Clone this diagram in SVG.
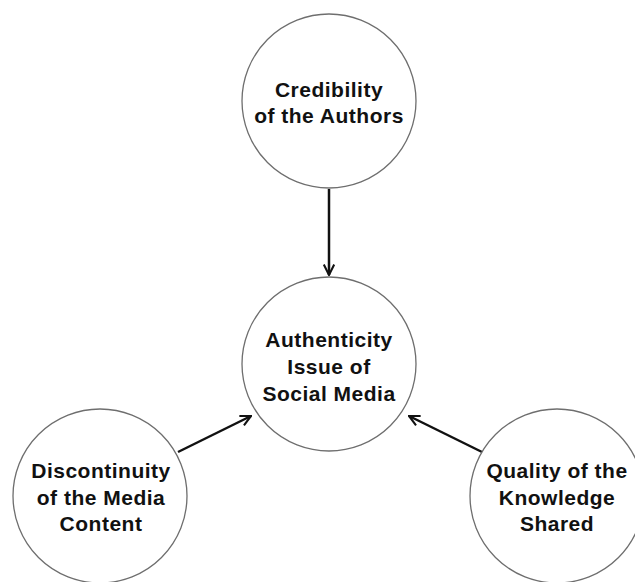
<svg xmlns="http://www.w3.org/2000/svg" width="635" height="582" viewBox="0 0 635 582">
<style>
.node circle{fill:#fff;stroke:#6e6e6e;stroke-width:1.3}
.node text{font-family:"Liberation Sans",Arial,sans-serif;font-weight:bold;font-size:21px;fill:#111;text-anchor:middle;letter-spacing:0.5px}
.conn line{stroke:#111;stroke-width:2.5;marker-end:url(#ah)}
</style>
<defs>
<marker id="ah" viewBox="0 0 12 12" refX="11" refY="6" markerWidth="5" markerHeight="5" markerUnits="strokeWidth" orient="auto">
<path d="M1,1 L11,6 L1,11" fill="none" stroke="#111" stroke-width="2"/>
</marker>
</defs>
<rect width="635" height="582" fill="#fff"/>
<g class="conn">
<line x1="329" y1="189" x2="329" y2="275"/>
<line x1="178" y1="452" x2="251" y2="416"/>
<line x1="482" y1="452" x2="409" y2="416"/>
</g>
<g id="credibility" class="node">
<circle cx="329" cy="101" r="87"/>
<text x="329" y="97">Credibility</text>
<text x="329" y="123">of the Authors</text>
</g>
<g id="authenticity" class="node">
<circle cx="329" cy="364" r="87"/>
<text x="329" y="347">Authenticity</text>
<text x="329" y="374">Issue of</text>
<text x="329" y="401">Social Media</text>
</g>
<g id="discontinuity" class="node">
<circle cx="100" cy="496" r="87"/>
<text x="101" y="478">Discontinuity</text>
<text x="101" y="505">of the Media</text>
<text x="101" y="531">Content</text>
</g>
<g id="quality" class="node">
<circle cx="557" cy="496" r="87"/>
<text x="557" y="478">Quality of the</text>
<text x="557" y="505">Knowledge</text>
<text x="557" y="531">Shared</text>
</g>
</svg>
